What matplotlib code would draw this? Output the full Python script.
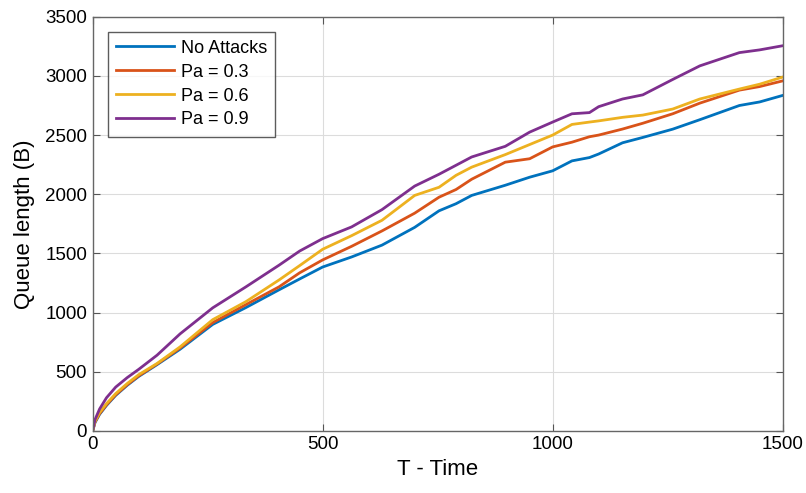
import matplotlib
matplotlib.use("Agg")
import matplotlib.pyplot as plt

# values
t = [0, 5, 15, 30, 50, 75, 100, 140, 190, 261, 333, 405, 450, 500,
     563, 629, 700, 753, 790, 824, 897, 950, 1000, 1042, 1080, 1100,
     1152, 1196, 1261, 1320, 1406, 1450, 1500]

no_attacks = [0, 70, 140, 215, 300, 385, 460, 560, 690, 900, 1042, 1192, 1284, 1385,
              1470, 1570, 1720, 1860, 1920, 1990, 2076, 2144, 2198, 2282, 2310, 2340,
              2435, 2480, 2550, 2630, 2750, 2780, 2835]
pa_03 = [0, 75, 145, 220, 305, 390, 465, 565, 700, 915, 1067, 1217, 1336, 1445,
         1560, 1690, 1840, 1975, 2040, 2127, 2271, 2300, 2400, 2440, 2486, 2500,
         2551, 2600, 2680, 2770, 2880, 2910, 2958]
pa_06 = [0, 80, 155, 230, 315, 400, 475, 570, 710, 940, 1092, 1275, 1397, 1535,
         1650, 1780, 1990, 2059, 2160, 2229, 2335, 2420, 2500, 2590, 2610, 2620,
         2650, 2669, 2720, 2805, 2889, 2930, 2990]
pa_09 = [0, 95, 185, 280, 370, 450, 520, 640, 820, 1040, 1217, 1400, 1520, 1625,
         1724, 1870, 2069, 2169, 2245, 2315, 2405, 2525, 2610, 2680, 2690, 2740,
         2805, 2840, 2970, 3085, 3197, 3220, 3255]

labels = ["No Attacks", "Pa = 0.3", "Pa = 0.6", "Pa = 0.9"]
colors = ["#0072BD", "#D95319", "#EDB120", "#7E2F8E"]

plt.rcParams["font.family"] = ["Liberation Sans", "DejaVu Sans"]

fig = plt.figure(figsize=(8.06, 4.93), dpi=100)
ax = fig.add_axes([0.115, 0.126, 0.856, 0.840])

for y, lab, c in zip([no_attacks, pa_03, pa_06, pa_09], labels, colors):
    ax.plot(t, y, color=c, linewidth=2, label=lab)

ax.set_xlim(0, 1500)
ax.set_ylim(0, 3500)
ax.set_xticks([0, 500, 1000, 1500])
ax.set_yticks(range(0, 3501, 500))
ax.grid(True, color="#dcdcdc", linewidth=0.8)
ax.set_axisbelow(True)

ax.tick_params(direction="in", top=True, right=True, labelsize=13.5,
               color="#555555", length=5, pad=4)
for s in ax.spines.values():
    s.set_color("#666666")
    s.set_linewidth(1.0)

ax.set_xlabel("T - Time", fontsize=16, labelpad=4)
ax.set_ylabel("Queue length (B)", fontsize=16, labelpad=7)

leg = ax.legend(loc="upper left", bbox_to_anchor=(0.022, 0.964), borderaxespad=0,
                fontsize=13, fancybox=False, edgecolor="#333333", handlelength=3.2,
                borderpad=0.45, labelspacing=0.38, handletextpad=0.4)
leg.get_frame().set_linewidth(1.0)

fig.savefig("out.png", dpi=100)
